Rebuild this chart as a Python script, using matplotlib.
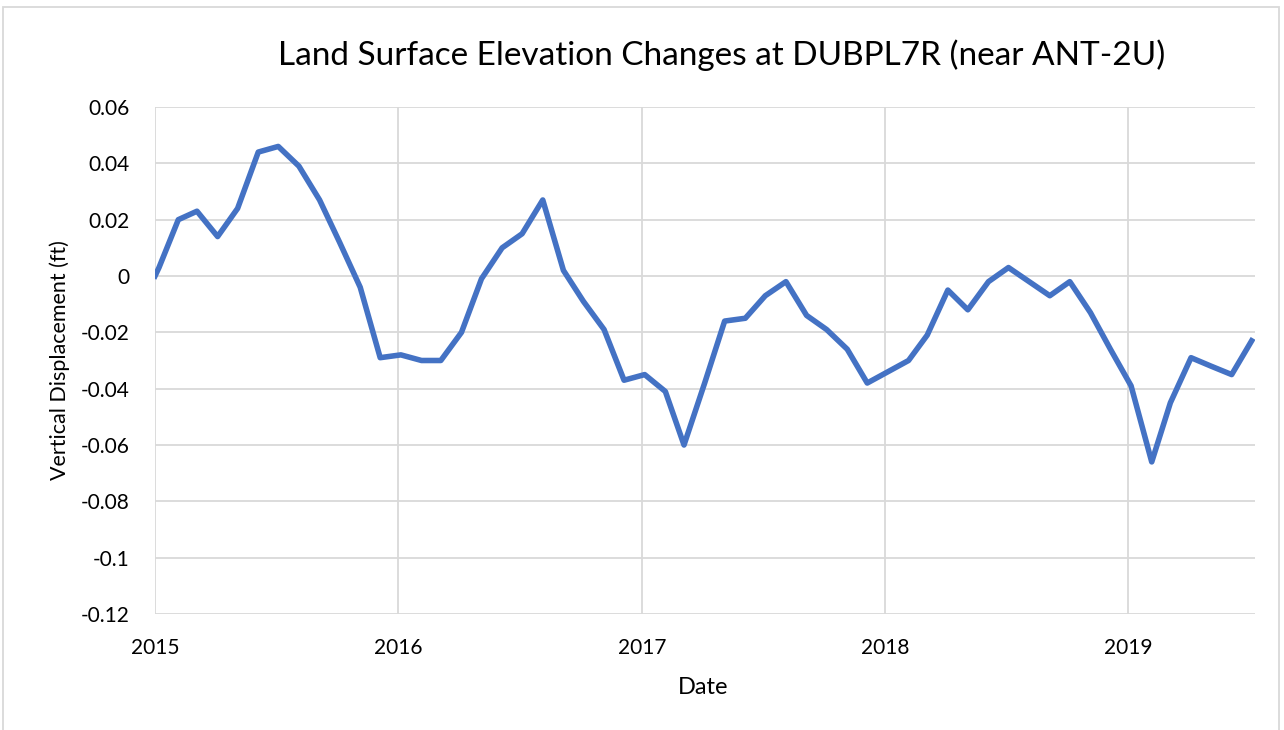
import matplotlib
matplotlib.use("Agg")
import matplotlib.pyplot as plt
from matplotlib.patches import Rectangle
import pandas as pd

plt.rcParams['font.family'] = ['Lato', 'DejaVu Sans']

# first two readings, then one reading per month (Feb 2015 - Jul 2019)
start_dates = ["2015-01-01", "2015-01-07"]
start_vals = [0.0, 0.003]

monthly_vals = [
    0.020, 0.023, 0.014, 0.024, 0.044, 0.046, 0.039, 0.027, 0.012, -0.004, -0.029,   # Feb-Dec 2015
    -0.028, -0.030, -0.030, -0.020, -0.001, 0.010, 0.015, 0.027, 0.002, -0.009, -0.019, -0.037,  # 2016
    -0.035, -0.041, -0.060, -0.038, -0.016, -0.015, -0.007, -0.002, -0.014, -0.019, -0.026, -0.038,  # 2017
    -0.034, -0.030, -0.021, -0.005, -0.012, -0.002, 0.003, -0.002, -0.007, -0.002, -0.013, -0.026,  # 2018
    -0.039, -0.066, -0.045, -0.029, -0.032, -0.035, -0.023,  # Jan-Jul 2019
]
monthly_dates = pd.date_range("2015-02-01", periods=len(monthly_vals), freq="MS") + pd.Timedelta(days=4)

dates = list(pd.to_datetime(start_dates)) + list(monthly_dates)
values = start_vals + monthly_vals

year_ticks = ["2015", "2016", "2017", "2018", "2019"]
y_ticks = [0.06, 0.04, 0.02, 0, -0.02, -0.04, -0.06, -0.08, -0.1, -0.12]
y_tick_labels = ["0.06", "0.04", "0.02", "0", "-0.02", "-0.04", "-0.06", "-0.08", "-0.1", "-0.12"]

W, H = 1284, 730
fig = plt.figure(figsize=(W / 100, H / 100), dpi=100)
ax = fig.add_axes([155 / W, 1 - 614 / H, 1100 / W, 507 / H])

ax.plot(dates, values, color='#4472C4', linewidth=4.0, solid_joinstyle='round', zorder=3)

ax.set_ylim(-0.12, 0.06)
ax.set_yticks(y_ticks)
ax.set_yticklabels(y_tick_labels)
ax.set_xlim(pd.Timestamp("2015-01-01"), pd.Timestamp("2019-07-10"))
ax.set_xticks(pd.to_datetime([y + "-01-01" for y in year_ticks]))
ax.set_xticklabels(year_ticks)

ax.grid(True, color='#D9D9D9', linewidth=1.3)
ax.set_axisbelow(True)
for s in ax.spines.values():
    s.set_visible(False)
ax.tick_params(length=0, labelsize=15, colors='black')
ax.tick_params(axis='y', pad=18)
ax.tick_params(axis='x', pad=17)

ax.set_xlabel("Date", fontsize=17)
ax.set_ylabel("Vertical Displacement (ft)", fontsize=15.5)
ax.xaxis.set_label_coords(548 / 1100, (614 - 677) / 507)
ax.yaxis.set_label_coords((70 - 155) / 1100, 0.5)

fig.text(722 / W, 1 - 55 / H, "Land Surface Elevation Changes at DUBPL7R (near ANT-2U)",
         ha='center', va='center', fontsize=24)

# chart area border
fig.patches.append(Rectangle((3 / W, -0.05), (1279 - 3) / W, 1 - 7 / H + 0.05,
                             transform=fig.transFigure, fill=False,
                             edgecolor='#D9D9D9', linewidth=1.3))

fig.savefig("out.png", dpi=100)
